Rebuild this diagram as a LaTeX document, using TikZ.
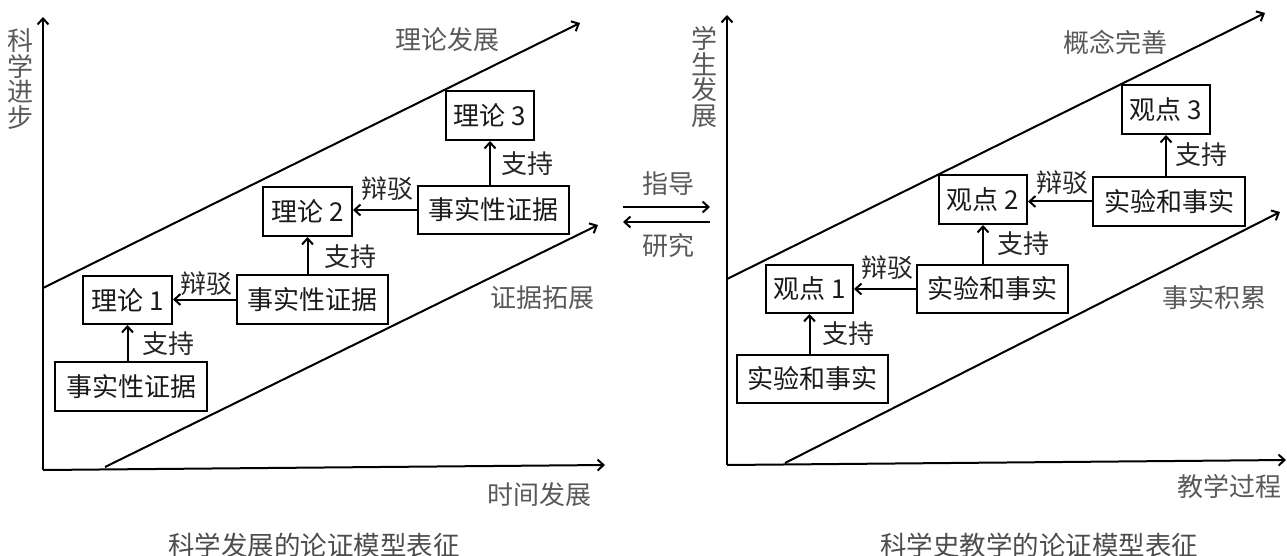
\documentclass[tikz,border=0pt]{standalone}
\usepackage{fontspec}
\setmainfont{Noto Sans CJK SC}
\usetikzlibrary{arrows.meta}
\tikzset{
  box/.style={draw, line width=2pt, inner sep=0pt, font=\fontsize{26}{30}\selectfont, text=black!90},
  lbl/.style={font=\fontsize{26}{30}\selectfont, text=black!85, inner sep=0pt},
  glbl/.style={font=\fontsize{26}{30}\selectfont, text=black!65, inner sep=0pt},
  captxt/.style={font=\fontsize{26.5}{30}\selectfont, text=black!70, inner sep=0pt},
  axis/.style={line width=2pt, -{Straight Barb[length=6pt,width=11pt]}},
  arr/.style={line width=2pt, -{Straight Barb[length=6pt,width=11pt]}},
}
\begin{document}
\begin{tikzpicture}[x=1pt,y=-1pt]
\useasboundingbox (0,0) rectangle (1287,556);
% ---------- left panel ----------
\coordinate (LO) at (43,470);
\coordinate (LY) at (43,17);
\coordinate (LX) at (605,465);
\coordinate (LU0) at (43,288);
\coordinate (LU1) at (580,23);
\coordinate (LL0) at (105,467);
\coordinate (LL1) at (598,225);
\draw[axis] (LO) -- (LY);
\draw[axis] (LO) -- (LX);
\draw[axis] (LU0) -- (LU1);
\draw[axis] (LL0) -- (LL1);

\node[box, minimum width=88pt, minimum height=49pt] (T3) at (490,115.5) {理论 3};
\node[box, minimum width=151pt, minimum height=48pt] (E3) at (493.5,210) {事实性证据};
\node[box, minimum width=89pt, minimum height=49pt] (T2) at (307.5,211.5) {理论 2};
\node[box, minimum width=151pt, minimum height=49pt] (E2) at (312.5,299.5) {事实性证据};
\node[box, minimum width=89pt, minimum height=48pt] (T1) at (127.5,300) {理论 1};
\node[box, minimum width=152pt, minimum height=49pt] (E1) at (131,386.5) {事实性证据};

\draw[arr] (T3.south |- E3.north) -- (T3.south);
\draw[arr] (E3.west) -- (T2.east |- E3.west);
\draw[arr] (T2.south |- E2.north) -- (T2.south);
\draw[arr] (E2.west) -- (T1.east |- E2.west);
\draw[arr] (T1.south |- E1.north) -- (T1.south);

\node[lbl] (s3) at (527,164) {支持};
\node[lbl] (b2) at (387,189) {辩驳};
\node[lbl] (s2) at (350,257) {支持};
\node[lbl] (b1) at (206,284) {辩驳};
\node[lbl] (s1) at (168,344) {支持};

\node[glbl, align=center, font=\fontsize{26}{25.5}\selectfont] (ly) at (21,79) {科\\学\\进\\步};
\node[glbl] (lu) at (447,40) {理论发展};
\node[glbl] (ll) at (542,298) {证据拓展};
\node[glbl] (lx) at (539,495) {时间发展};
\node[captxt] (lc) at (314,545) {科学发展的论证模型表征};

% ---------- middle ----------
\coordinate (MA0) at (623,207);
\coordinate (MA1) at (710,207);
\coordinate (MB0) at (710,222);
\coordinate (MB1) at (623,222);
\draw[arr] (MA0) -- (MA1);
\draw[arr] (MB0) -- (MB1);
\node[glbl] (mg) at (668,184) {指导};
\node[glbl] (mr) at (668,246) {研究};

% ---------- right panel ----------
\coordinate (RO) at (727,465);
\coordinate (RY) at (727,15);
\coordinate (RX) at (1286,460);
\coordinate (RU0) at (727,279);
\coordinate (RU1) at (1265,13);
\coordinate (RL0) at (785,463);
\coordinate (RL1) at (1280,212);
\draw[axis] (RO) -- (RY);
\draw[axis] (RO) -- (RX);
\draw[axis] (RU0) -- (RU1);
\draw[axis] (RL0) -- (RL1);

\node[box, minimum width=88pt, minimum height=49pt] (V3) at (1166,109.5) {观点 3};
\node[box, minimum width=152pt, minimum height=49pt] (F3) at (1169,201.5) {实验和事实};
\node[box, minimum width=88pt, minimum height=49pt] (V2) at (983,199.5) {观点 2};
\node[box, minimum width=151pt, minimum height=48pt] (F2) at (992.5,289) {实验和事实};
\node[box, minimum width=87pt, minimum height=48pt] (V1) at (809.5,289) {观点 1};
\node[box, minimum width=151pt, minimum height=48pt] (F1) at (812.5,379) {实验和事实};

\draw[arr] (V3.south |- F3.north) -- (V3.south);
\draw[arr] (F3.west) -- (V2.east |- F3.west);
\draw[arr] (V2.south |- F2.north) -- (V2.south);
\draw[arr] (F2.west) -- (V1.east |- F2.west);
\draw[arr] (V1.south |- F1.north) -- (V1.south);

\node[lbl] (t3) at (1201,155) {支持};
\node[lbl] (c2) at (1062,183) {辩驳};
\node[lbl] (t2) at (1023,244) {支持};
\node[lbl] (c1) at (887,268) {辩驳};
\node[lbl] (t1) at (848,334) {支持};

\node[glbl, align=center, font=\fontsize{26}{25.5}\selectfont] (ry) at (704,77) {学\\生\\发\\展};
\node[glbl] (ru) at (1115,42) {概念完善};
\node[glbl] (rl) at (1214,298) {事实积累};
\node[glbl] (rx) at (1229,487) {教学过程};
\node[captxt] (rc) at (1039,545) {科学史教学的论证模型表征};
\end{tikzpicture}
\end{document}
